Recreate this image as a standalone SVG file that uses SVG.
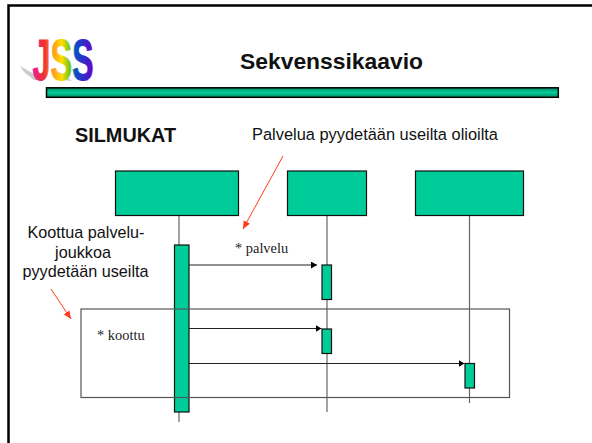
<svg xmlns="http://www.w3.org/2000/svg" width="592" height="443" viewBox="0 0 592 443">
<style>
.sans{font-family:"Liberation Sans",Arial,sans-serif;fill:#111}
.serif{font-family:"Liberation Serif","Times New Roman",serif;font-size:14.400px;fill:#222}
.box{fill:#00cc99;stroke:#111;stroke-width:1.2}
.life{stroke:#666;stroke-width:1.2;fill:none}
.msg{stroke:#222;stroke-width:1;fill:none;marker-end:url(#ah)}
.red{stroke:#ff3b1a;stroke-width:1;fill:none;marker-end:url(#rh)}
</style>
<defs>
<marker id="ah" markerUnits="userSpaceOnUse" markerWidth="7" markerHeight="8" refX="6" refY="3.500" orient="auto"><path d="M0 0L6 3.500L0 7z" fill="#000"/></marker>
<marker id="rh" markerUnits="userSpaceOnUse" markerWidth="9" markerHeight="9" refX="8" refY="3.500" orient="auto"><path d="M0 0L8 3.500L0 7z" fill="#ff3b1a"/></marker>
<linearGradient id="rb" gradientUnits="userSpaceOnUse" x1="32" y1="0" x2="94" y2="0"><stop offset="0" stop-color="#e8209c"/><stop offset=".2" stop-color="#f03030"/><stop offset=".34" stop-color="#ff9a20"/><stop offset=".48" stop-color="#ffe000"/><stop offset=".63" stop-color="#60c020"/><stop offset=".7" stop-color="#0850c8"/><stop offset="1" stop-color="#6800c8"/></linearGradient>
<linearGradient id="bar" x1="0" y1="0" x2="0" y2="1"><stop offset="0" stop-color="#008a66"/><stop offset=".5" stop-color="#00cc99"/><stop offset="1" stop-color="#008a66"/></linearGradient>
</defs>
<path d="M8.500 444V5.500H592" fill="none" stroke="#000" stroke-width="2.500"/>
<g id="logo">
<path d="M20 66L34 74L46 80L34 80L24 72zM52 68L66 76L72 81L64 80L56 73zM74 69L85 77L89 81L81 80L77 74z" fill="#ccc"/>
<text x="32.500" y="80" class="sans" style="font-size:58px;font-weight:bold;fill:url(#rb);stroke:url(#rb);stroke-width:1" textLength="61" lengthAdjust="spacingAndGlyphs">JSS</text>
</g>
<text x="240" y="69" class="sans" font-weight="bold" textLength="183" lengthAdjust="spacingAndGlyphs" style="font-size:22.800px">Sekvenssikaavio</text>
<rect id="title-bar" x="46.500" y="87.800" width="511.800" height="9.500" fill="url(#bar)" stroke="#000" stroke-width="1.500"/>
<text x="75" y="142" class="sans" font-size="19.500" font-weight="bold" textLength="101" lengthAdjust="spacingAndGlyphs">SILMUKAT</text>
<text x="252" y="140" class="sans" font-size="16.300" textLength="246" lengthAdjust="spacingAndGlyphs">Palvelua pyydetään useilta olioilta</text>
<text class="sans" font-size="16.200" text-anchor="middle"><tspan x="86" y="238">Koottua palvelu-</tspan><tspan x="83" y="258">joukkoa</tspan><tspan x="85.500" y="277">pyydetään useilta</tspan></text>
<g id="lifelines">
<path class="life" d="M179 215V422M327 215V412M469.500 215V403"/>
</g>
<g id="node-a"><rect class="box" x="115.500" y="171" width="123" height="44.500"/></g>
<g id="node-b"><rect class="box" x="287.500" y="171" width="79" height="44.500"/></g>
<g id="node-c"><rect class="box" x="415.500" y="171" width="108" height="44.500"/></g>
<g id="act-a"><rect class="box" x="174.500" y="245" width="14.500" height="167"/></g>
<g id="act-b1"><rect class="box" x="322" y="265" width="9.500" height="34.500"/></g>
<g id="act-b2"><rect class="box" x="322" y="329" width="9.500" height="24.500"/></g>
<g id="act-c"><rect class="box" x="465" y="363.500" width="9.500" height="24.500"/></g>
<rect id="loop" x="81" y="309" width="428.500" height="88.500" fill="none" stroke="#555" stroke-width="1.200"/>
<g id="connectors">
<path class="msg" d="M189 265H317"/>
<path class="msg" d="M189 328.500H321.500"/>
<path class="msg" d="M189 363.500H464.500"/>
<path class="red" d="M283 156L243 229"/>
<path class="red" d="M51 289L71 319"/>
</g>
<text x="235" y="253" class="serif">* palvelu</text>
<text x="97" y="340" class="serif">* koottu</text>
</svg>
